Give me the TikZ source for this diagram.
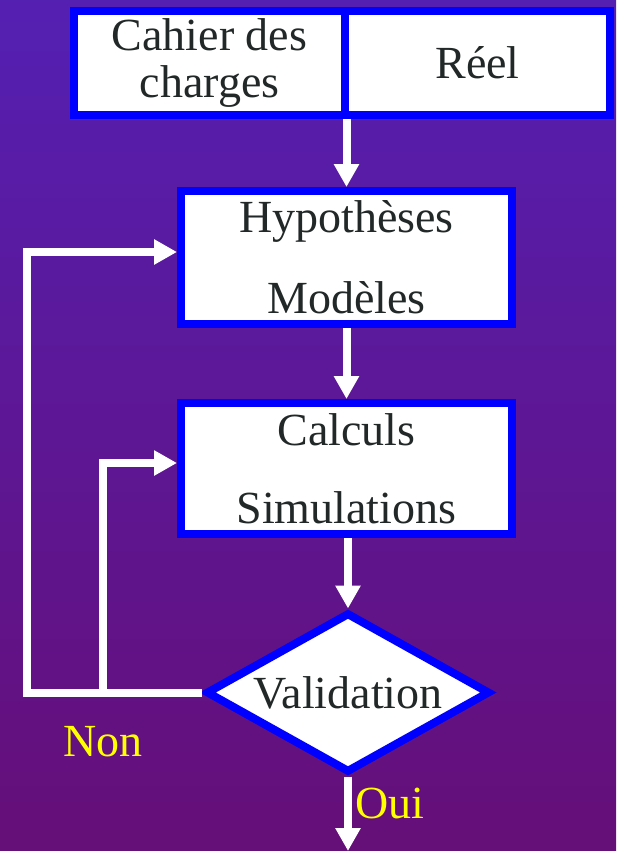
\documentclass[tikz,border=0pt]{standalone}
\usepackage{fontspec}
\setmainfont{Liberation Serif}
\usetikzlibrary{arrows.meta,shapes.geometric}
\begin{document}
\begin{tikzpicture}[x=0.5pt, y=-0.5pt, >={Triangle[width=12pt,length=11.5pt]},
	font=\fontsize{23}{28}\selectfont,
	boite/.style={draw=bleu, line width=4pt, fill=white, text=encre, inner sep=0pt, align=center},
	fleche/.style={->, white, line width=4pt},
	etiquette/.style={text=jaune, inner sep=0pt}]
		\definecolor{fondA}{RGB}{78, 38, 200}
		\definecolor{fondB}{RGB}{108, 8, 98}
		\definecolor{bleu}{RGB}{0, 0, 255}
		\definecolor{encre}{RGB}{34, 40, 40}
		\definecolor{jaune}{RGB}{255, 255, 0}
		
		% fond dégradé (diagonale)
		\useasboundingbox (0,0) rectangle (616,851);
		\begin{scope}
			\clip (0,0) rectangle (616,851);
			\shade[shading angle=45, top color=fondA, bottom color=fondB] (-442,-324.5) rectangle (1058,1175.5);
		\end{scope}
		
		% boîtes
		\node[boite, minimum width=135.5pt, minimum height=52pt, font=\fontsize{23}{23.5}\selectfont] (cdc) at (209.5,63) {Cahier des\\charges};
		\node[boite, minimum width=132.5pt, minimum height=52pt] (reel) at (477.5,63) {Réel};
		\node[boite, minimum width=165.5pt, minimum height=66.5pt, font=\fontsize{23}{40.5}\selectfont] (hyp) at (346.5,257.5) {Hypothèses\\Modèles};
		\node[boite, minimum width=165.5pt, minimum height=65.5pt, font=\fontsize{23}{39}\selectfont] (calc) at (346.5,468.5) {Calculs\\Simulations};
		\node[boite, diamond, aspect=1.76, minimum width=142pt, minimum height=80pt] (val) at (348,692.5) {Validation};
		
		% flèches
		\coordinate (nonA) at (27,692.5);
		\coordinate (nonB) at (103,692.5);
		\coordinate (sortie) at (348,851);
		\draw[fleche] (hyp.north |- cdc.south) -- (hyp.north);
		\draw[fleche] (hyp.south) -- (calc.north);
		\draw[fleche] (val.north |- calc.south) -- (val.north);
		\draw[fleche] (val.south) -- (sortie);
		\draw[fleche] (val.west) -- (nonA) |- ([yshift=2.75pt]hyp.west);
		\draw[fleche] (nonB) |- ([yshift=2.75pt]calc.west);
		
		\node[etiquette] (non) at (103,742) {Non};
		\node[etiquette] (oui) at (390,803) {Oui};
\end{tikzpicture}
\end{document}
